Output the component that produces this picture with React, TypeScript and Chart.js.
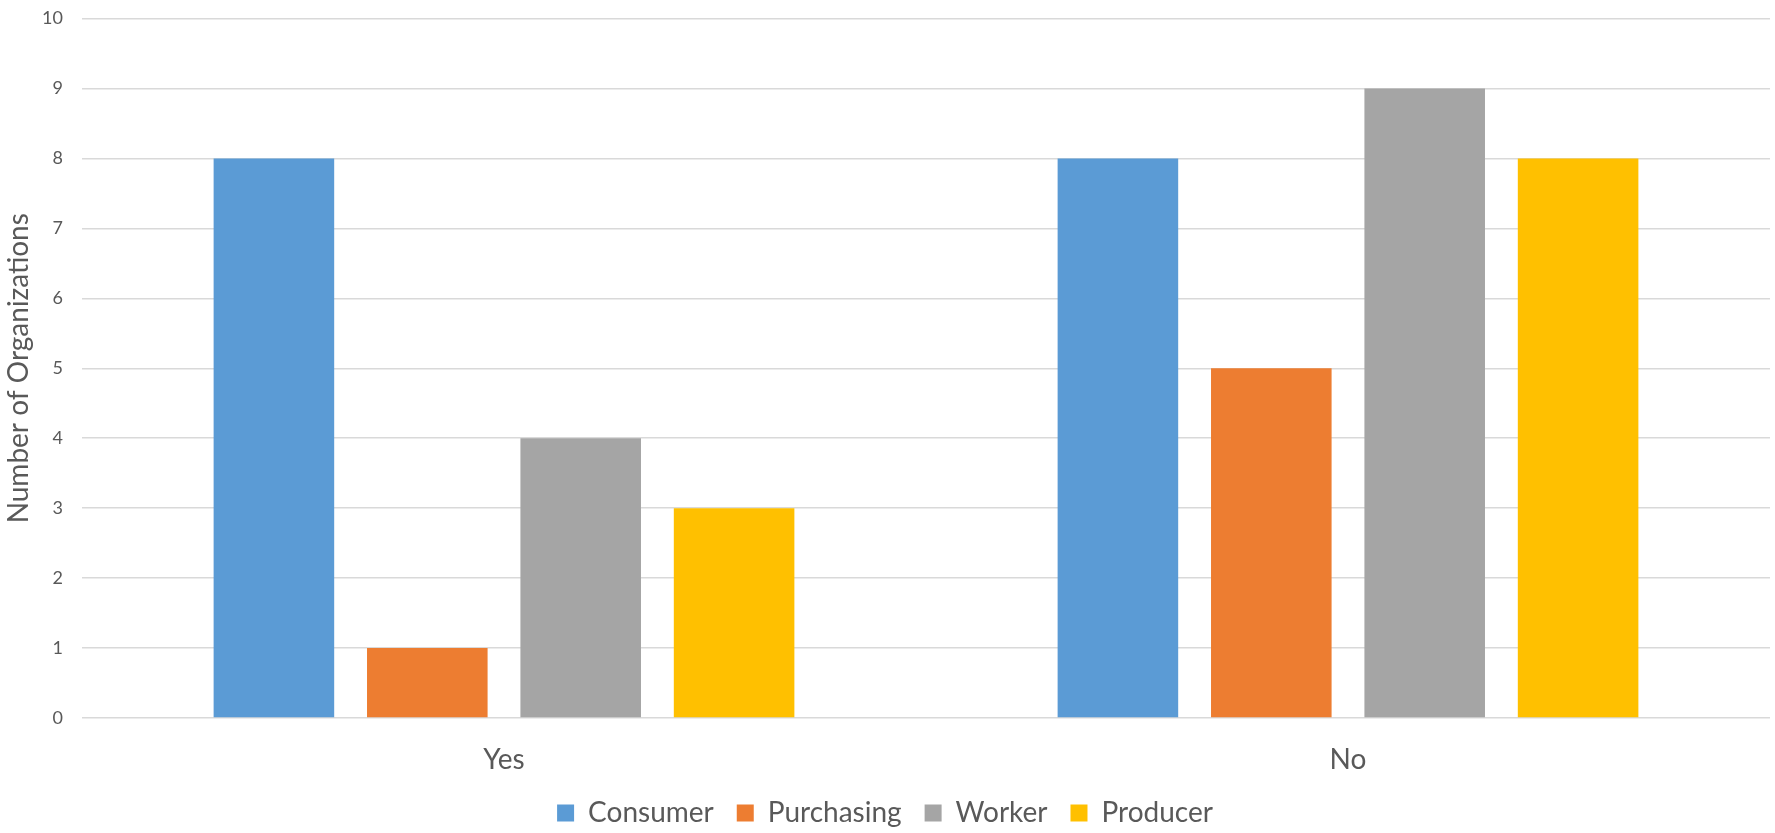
import React, { useEffect, useRef } from "react";
import { Chart, registerables } from "chart.js";

Chart.register(...registerables);

const categories = ["Yes", "No"];
const seriesNames = ["Consumer", "Purchasing", "Worker", "Producer"];
const consumer = [8, 8];
const purchasing = [1, 5];
const worker = [4, 9];
const producer = [3, 8];
const colors = ["#5B9BD5", "#ED7D31", "#A5A5A5", "#FFC000"];
const yTicks = [0, 1, 2, 3, 4, 5, 6, 7, 8, 9, 10];
const yTitle = "Number of Organizations";

const FONT = "Lato, 'Noto Sans', sans-serif";
const TEXT = "#595959";

export default function App() {
  const ref = useRef<HTMLCanvasElement | null>(null);
  useEffect(() => {
    document.body.style.margin = "0";
    const values = [consumer, purchasing, worker, producer];
    const chart = new Chart(ref.current!, {
      type: "bar",
      data: {
        labels: categories,
        datasets: seriesNames.map((n, i) => ({
          label: n,
          data: values[i],
          backgroundColor: colors[i],
          borderWidth: 0,
          categoryPercentage: 0.727,
          barPercentage: 0.786,
        })),
      },
      options: {
        responsive: false,
        animation: false,
        layout: { padding: { left: 0, right: 5, top: 0, bottom: 0 } },
        plugins: {
          tooltip: { enabled: false },
          legend: {
            position: "bottom",
            maxHeight: 57,
            labels: {
              boxWidth: 17,
              boxHeight: 17,
              padding: 23,
              color: TEXT,
              font: { family: FONT, size: 28 },
            },
          },
        },
        scales: {
          x: {
            grid: { display: false },
            border: { display: false },
            ticks: { color: TEXT, font: { family: FONT, size: 28 }, padding: 17 },
            afterFit: (s: any) => {
              s.height = 58;
            },
          },
          y: {
            min: 0,
            max: 10,
            afterBuildTicks: (s: any) => {
              s.ticks = yTicks.map((v) => ({ value: v }));
            },
            afterFit: (s: any) => {
              s.width = 82;
              s.paddingTop = 18.5;
            },
            grid: { color: "#D9D9D9", lineWidth: 1.5, drawTicks: false },
            border: { display: false },
            ticks: { color: TEXT, font: { family: FONT, size: 18 }, padding: 19 },
            title: {
              display: true,
              text: yTitle,
              color: TEXT,
              font: { family: FONT, size: 28 },
              padding: { top: 2, bottom: 0 },
            },
          },
        },
      },
    });
    return () => chart.destroy();
  }, []);
  return <canvas ref={ref} width={1775} height={833} style={{ display: "block" }} />;
}
